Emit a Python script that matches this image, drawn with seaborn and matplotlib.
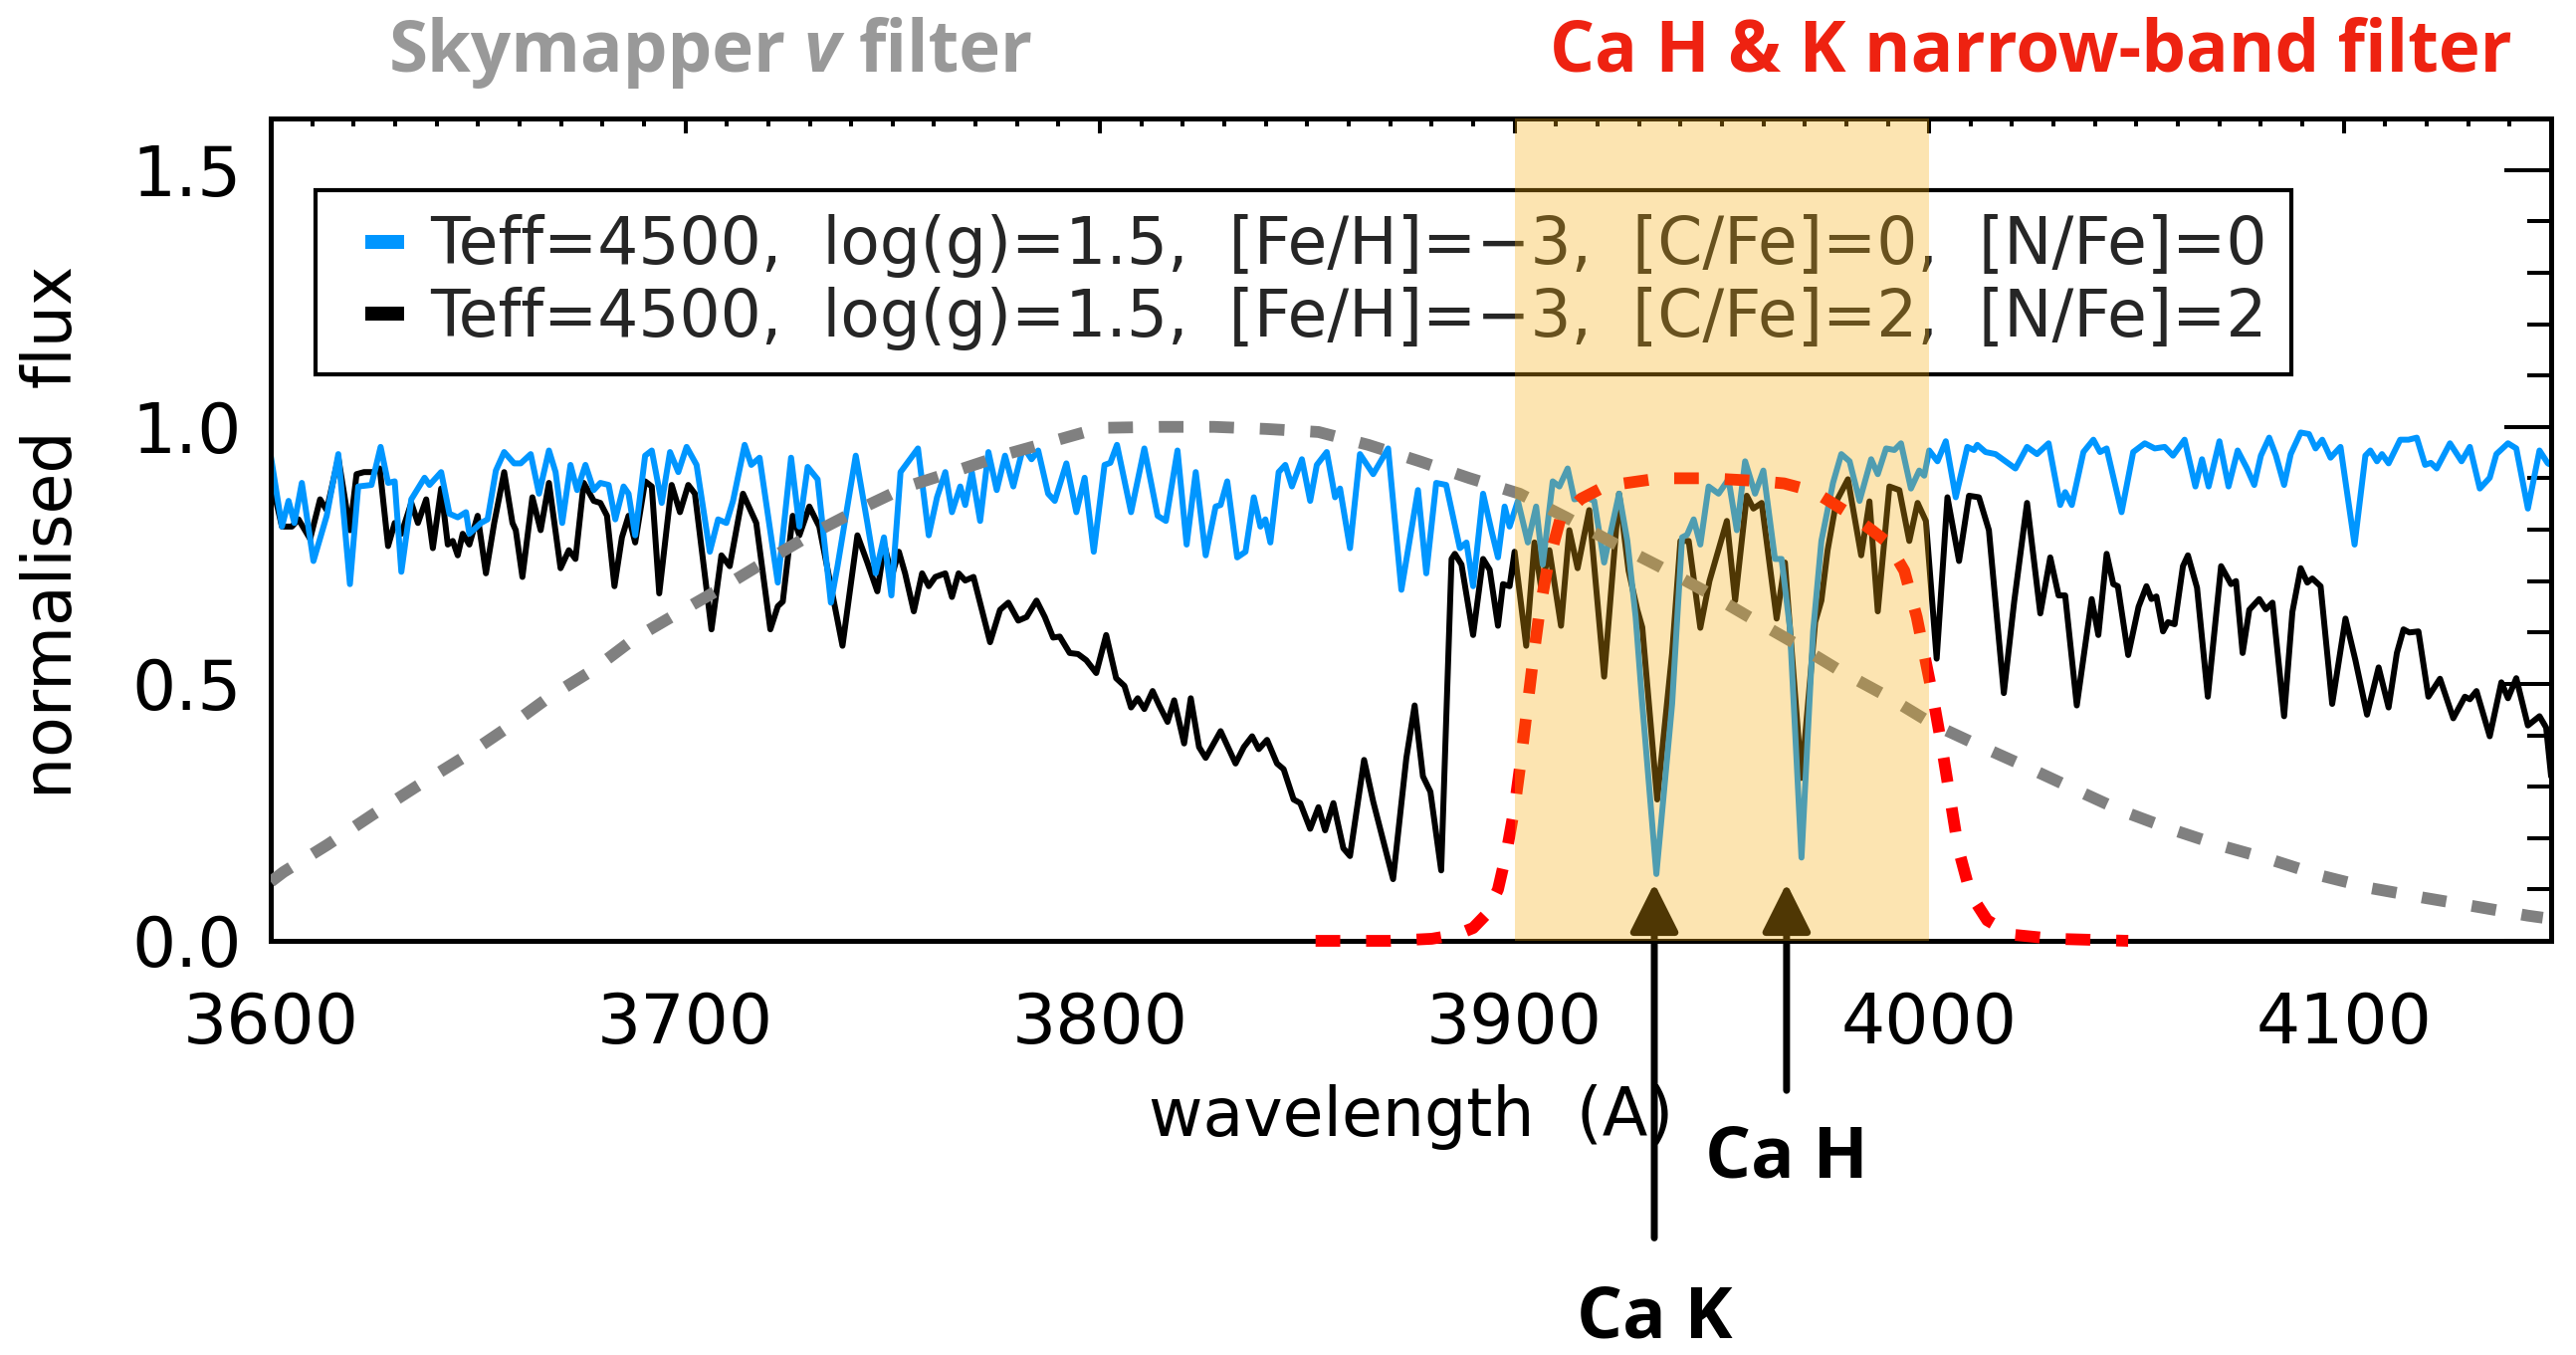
import matplotlib
matplotlib.use("Agg")
import matplotlib.pyplot as plt
import seaborn as sns
from matplotlib.lines import Line2D
from matplotlib.patches import Rectangle
from matplotlib.legend_handler import HandlerBase
from matplotlib.ticker import MultipleLocator

# ---------------- data ----------------
blue_wave = [3600.0, 3602.7, 3604.3, 3605.7, 3607.5, 3610.3, 3613.5, 3616.3, 3619.1, 3621.1,
             3624.3, 3626.5, 3628.3, 3629.9, 3631.5, 3633.9, 3637.1, 3638.3, 3641.1, 3643.1,
             3645.1, 3647.1, 3647.9, 3650.7, 3652.3, 3654.3, 3656.3, 3658.7, 3660.3, 3662.7,
             3664.7, 3667.1, 3668.7, 3670.3, 3672.3, 3673.9, 3675.9, 3677.9, 3679.5, 3681.5,
             3683.1, 3685.1, 3686.3, 3687.9, 3690.3, 3691.9, 3694.3, 3696.3, 3698.3, 3700.3,
             3702.7, 3705.9, 3707.9, 3709.9, 3711.5, 3714.3, 3715.9, 3717.9, 3722.3, 3725.5,
             3727.5, 3729.5, 3731.9, 3735.1, 3736.7, 3741.1, 3743.9, 3745.9, 3747.9, 3749.7,
             3751.9, 3756.1, 3758.7, 3760.7, 3762.7, 3764.3, 3766.3, 3767.5, 3769.1, 3771.1,
             3773.1, 3775.1, 3777.1, 3779.1, 3781.5, 3783.5, 3785.1, 3787.5, 3789.1, 3791.9,
             3794.3, 3796.3, 3798.5, 3801.1, 3802.5, 3804.1, 3807.5, 3810.7, 3813.9, 3815.9,
             3818.7, 3820.9, 3823.1, 3825.5, 3827.9, 3829.1, 3830.7, 3833.1, 3835.1, 3837.1,
             3838.7, 3839.9, 3841.1, 3843.1, 3844.7, 3846.3, 3848.7, 3850.7, 3852.3, 3854.7,
             3856.7, 3857.9, 3860.3, 3862.7, 3865.9, 3869.5, 3872.7, 3876.7, 3878.7, 3881.1,
             3883.5, 3886.8, 3888.4, 3890.0, 3892.4, 3894.4, 3896.0, 3897.6, 3898.8, 3900.8,
             3903.2, 3905.2, 3906.8, 3909.2, 3910.8, 3912.8, 3914.4, 3917.2, 3919.2, 3921.6,
             3925.2, 3927.2, 3929.2, 3930.8, 3934.2, 3938.0, 3940.4, 3941.6, 3943.2, 3944.8,
             3946.8, 3949.2, 3951.6, 3953.6, 3955.6, 3958.0, 3960.0, 3962.8, 3964.4, 3966.4,
             3969.2, 3972.0, 3974.0, 3976.8, 3978.8, 3980.8, 3983.2, 3986.0, 3987.6, 3989.6,
             3991.6, 3993.2, 3995.6, 3997.6, 3998.8, 4000.0, 4002.0, 4004.0, 4006.4, 4009.2,
             4010.8, 4011.6, 4013.6, 4016.0, 4018.4, 4020.8, 4023.6, 4026.0, 4028.8, 4031.6,
             4032.8, 4034.4, 4037.2, 4039.6, 4041.2, 4042.8, 4046.4, 4049.2, 4052.0, 4054.4,
             4056.8, 4058.8, 4061.6, 4064.2, 4065.8, 4067.4, 4070.0, 4072.2, 4074.4, 4076.6,
             4078.4, 4080.0, 4082.0, 4083.6, 4085.6, 4087.2, 4089.6, 4091.6, 4093.2, 4094.8,
             4096.8, 4099.2, 4102.6, 4105.2, 4106.4, 4108.0, 4109.2, 4110.8, 4113.6, 4115.6,
             4117.6, 4119.6, 4121.0, 4122.4, 4125.6, 4128.4, 4130.4, 4132.8, 4135.2, 4136.8,
             4139.6, 4141.6, 4144.4, 4147.2, 4149.2, 4150.0]
blue_flux = [0.944, 0.806, 0.856, 0.813, 0.891, 0.739, 0.827, 0.947, 0.694, 0.884,
             0.887, 0.961, 0.891, 0.894, 0.718, 0.859, 0.901, 0.887, 0.912, 0.831,
             0.824, 0.834, 0.792, 0.813, 0.820, 0.915, 0.951, 0.929, 0.929, 0.947,
             0.870, 0.954, 0.912, 0.813, 0.926, 0.877, 0.926, 0.877, 0.891, 0.887,
             0.820, 0.884, 0.870, 0.789, 0.944, 0.954, 0.852, 0.951, 0.912, 0.961,
             0.926, 0.757, 0.820, 0.813, 0.856, 0.965, 0.926, 0.940, 0.697, 0.940,
             0.806, 0.922, 0.898, 0.658, 0.729, 0.944, 0.813, 0.715, 0.785, 0.672,
             0.912, 0.958, 0.789, 0.863, 0.912, 0.834, 0.884, 0.848, 0.912, 0.817,
             0.951, 0.877, 0.944, 0.884, 0.961, 0.937, 0.954, 0.870, 0.856, 0.929,
             0.834, 0.901, 0.757, 0.926, 0.930, 0.965, 0.834, 0.958, 0.827, 0.817,
             0.954, 0.771, 0.912, 0.750, 0.845, 0.848, 0.894, 0.746, 0.757, 0.863,
             0.806, 0.820, 0.775, 0.912, 0.926, 0.884, 0.937, 0.856, 0.926, 0.951,
             0.863, 0.880, 0.764, 0.947, 0.908, 0.958, 0.683, 0.877, 0.715, 0.891,
             0.887, 0.764, 0.775, 0.690, 0.870, 0.799, 0.746, 0.845, 0.806, 0.856,
             0.775, 0.845, 0.732, 0.894, 0.884, 0.919, 0.859, 0.863, 0.856, 0.736,
             0.870, 0.778, 0.630, 0.461, 0.130, 0.461, 0.785, 0.790, 0.820, 0.771,
             0.884, 0.870, 0.898, 0.799, 0.933, 0.870, 0.915, 0.743, 0.743, 0.609,
             0.162, 0.602, 0.778, 0.891, 0.947, 0.933, 0.856, 0.937, 0.908, 0.958,
             0.955, 0.968, 0.880, 0.915, 0.905, 0.954, 0.933, 0.972, 0.863, 0.961,
             0.955, 0.965, 0.951, 0.947, 0.933, 0.919, 0.961, 0.947, 0.968, 0.848,
             0.873, 0.848, 0.951, 0.975, 0.951, 0.958, 0.834, 0.951, 0.968, 0.958,
             0.961, 0.944, 0.975, 0.884, 0.937, 0.884, 0.972, 0.884, 0.954, 0.920,
             0.887, 0.944, 0.979, 0.945, 0.887, 0.947, 0.989, 0.986, 0.958, 0.975,
             0.940, 0.961, 0.771, 0.944, 0.954, 0.933, 0.947, 0.929, 0.975, 0.975,
             0.979, 0.926, 0.930, 0.919, 0.968, 0.933, 0.961, 0.880, 0.901, 0.947,
             0.968, 0.958, 0.841, 0.954, 0.929, 0.926]

black_wave = [3600.0, 3602.7, 3605.1, 3606.7, 3609.5, 3611.9, 3613.5, 3616.3, 3619.1, 3620.7,
              3622.5, 3624.7, 3626.3, 3628.3, 3629.9, 3631.5, 3633.9, 3635.5, 3637.5, 3639.1,
              3641.1, 3642.7, 3643.9, 3645.1, 3646.3, 3647.9, 3649.9, 3651.9, 3653.9, 3656.3,
              3658.3, 3659.1, 3660.7, 3663.1, 3665.1, 3667.1, 3669.9, 3671.9, 3673.5, 3675.5,
              3677.9, 3679.5, 3681.1, 3682.9, 3684.7, 3686.3, 3687.9, 3690.3, 3691.9, 3693.7,
              3696.7, 3698.7, 3700.7, 3702.3, 3706.3, 3708.7, 3710.7, 3713.9, 3717.1, 3720.5,
              3722.3, 3723.5, 3725.9, 3727.5, 3729.9, 3732.3, 3737.9, 3741.5, 3743.9, 3746.3,
              3748.0, 3749.8, 3751.5, 3753.0, 3755.1, 3757.1, 3758.7, 3760.3, 3762.7, 3764.3,
              3765.9, 3767.5, 3769.5, 3773.5, 3775.9, 3777.9, 3780.3, 3782.3, 3784.7, 3786.7,
              3788.7, 3790.3, 3792.7, 3794.7, 3796.7, 3799.1, 3801.5, 3803.9, 3805.9, 3807.5,
              3809.1, 3810.7, 3812.7, 3814.3, 3816.3, 3817.9, 3820.3, 3821.9, 3823.9, 3825.5,
              3829.1, 3832.7, 3834.7, 3836.7, 3838.3, 3840.3, 3842.7, 3844.3, 3846.7, 3848.3,
              3850.7, 3852.7, 3854.3, 3856.3, 3858.7, 3860.3, 3863.7, 3865.9, 3870.7, 3873.9,
              3875.9, 3877.9, 3879.7, 3882.3, 3884.8, 3885.6, 3887.2, 3890.0, 3892.4, 3894.0,
              3896.0, 3897.2, 3898.8, 3900.0, 3902.8, 3904.8, 3906.4, 3908.4, 3911.2, 3913.2,
              3915.2, 3918.0, 3921.6, 3925.2, 3927.5, 3929.6, 3930.8, 3934.4, 3938.0, 3940.0,
              3942.0, 3944.8, 3947.0, 3951.2, 3953.2, 3956.0, 3957.6, 3959.6, 3963.2, 3965.2,
              3969.2, 3972.5, 3974.0, 3975.5, 3977.6, 3980.4, 3983.6, 3985.6, 3987.6, 3990.4,
              3992.8, 3995.2, 3997.2, 3999.2, 4001.8, 4004.4, 4007.2, 4009.6, 4012.0, 4014.4,
              4018.0, 4020.5, 4023.6, 4026.8, 4029.2, 4031.2, 4032.8, 4035.6, 4039.2, 4040.8,
              4042.8, 4044.4, 4045.5, 4048.0, 4050.5, 4052.4, 4053.6, 4054.8, 4056.4, 4057.6,
              4059.2, 4061.2, 4062.4, 4064.6, 4067.2, 4070.4, 4072.8, 4074.0, 4075.6, 4077.2,
              4079.6, 4081.2, 4082.8, 4085.6, 4087.6, 4089.6, 4091.2, 4092.4, 4094.4, 4097.2,
              4100.4, 4102.8, 4105.6, 4108.4, 4110.8, 4112.8, 4114.4, 4115.8, 4118.0, 4120.4,
              4123.2, 4126.4, 4129.2, 4130.4, 4132.0, 4135.2, 4138.0, 4139.6, 4141.6, 4144.4,
              4147.2, 4148.8, 4150.0]
black_flux = [0.901, 0.806, 0.806, 0.820, 0.782, 0.859, 0.838, 0.940, 0.799, 0.908,
              0.912, 0.912, 0.919, 0.768, 0.813, 0.792, 0.852, 0.813, 0.859, 0.764,
              0.880, 0.771, 0.778, 0.750, 0.792, 0.771, 0.827, 0.715, 0.813, 0.912,
              0.813, 0.799, 0.708, 0.863, 0.799, 0.891, 0.725, 0.760, 0.743, 0.891,
              0.856, 0.852, 0.827, 0.690, 0.785, 0.827, 0.775, 0.894, 0.884, 0.676,
              0.887, 0.834, 0.887, 0.870, 0.606, 0.750, 0.729, 0.870, 0.813, 0.606,
              0.651, 0.660, 0.827, 0.789, 0.845, 0.806, 0.574, 0.789, 0.736, 0.680,
              0.770, 0.710, 0.757, 0.715, 0.641, 0.715, 0.690, 0.708, 0.715, 0.669,
              0.715, 0.701, 0.708, 0.581, 0.644, 0.658, 0.623, 0.630, 0.662, 0.630,
              0.590, 0.592, 0.560, 0.558, 0.546, 0.521, 0.595, 0.511, 0.496, 0.454,
              0.472, 0.451, 0.486, 0.458, 0.426, 0.468, 0.384, 0.472, 0.377, 0.356,
              0.408, 0.345, 0.377, 0.398, 0.373, 0.391, 0.345, 0.334, 0.275, 0.268,
              0.218, 0.260, 0.215, 0.268, 0.180, 0.165, 0.352, 0.271, 0.120, 0.356,
              0.458, 0.320, 0.290, 0.137, 0.743, 0.753, 0.732, 0.595, 0.743, 0.722,
              0.613, 0.694, 0.690, 0.757, 0.574, 0.775, 0.687, 0.760, 0.613, 0.799,
              0.725, 0.838, 0.514, 0.870, 0.720, 0.644, 0.610, 0.275, 0.560, 0.778,
              0.778, 0.609, 0.700, 0.817, 0.662, 0.866, 0.841, 0.852, 0.627, 0.736,
              0.317, 0.620, 0.662, 0.760, 0.855, 0.898, 0.750, 0.855, 0.641, 0.884,
              0.877, 0.778, 0.852, 0.817, 0.549, 0.863, 0.739, 0.866, 0.863, 0.799,
              0.482, 0.660, 0.852, 0.637, 0.746, 0.672, 0.672, 0.458, 0.665, 0.595,
              0.753, 0.694, 0.690, 0.556, 0.650, 0.690, 0.665, 0.670, 0.602, 0.620,
              0.616, 0.729, 0.750, 0.687, 0.475, 0.729, 0.694, 0.700, 0.560, 0.644,
              0.665, 0.645, 0.658, 0.437, 0.640, 0.725, 0.697, 0.705, 0.690, 0.461,
              0.627, 0.546, 0.440, 0.532, 0.454, 0.560, 0.606, 0.600, 0.602, 0.475,
              0.510, 0.433, 0.475, 0.470, 0.486, 0.398, 0.503, 0.472, 0.511, 0.419,
              0.437, 0.415, 0.320]

vfilter_wave = [3600.0, 3603.1, 3613.7, 3624.5, 3635.3, 3646.3, 3657.1, 3667.1, 3677.7, 3687.7,
                3698.5, 3709.5, 3720.3, 3731.5, 3742.3, 3753.5, 3765.5, 3777.5, 3789.9, 3800.0,
                3814.7, 3827.5, 3839.9, 3852.7, 3864.7, 3877.1, 3889.2, 3901.2, 3912.4, 3923.6,
                3934.8, 3946.0, 3957.2, 3968.0, 3978.8, 3990.0, 4000.8, 4012.0, 4023.6, 4034.8,
                4046.4, 4058.0, 4070.4, 4082.4, 4094.4, 4106.8, 4119.2, 4131.6, 4144.4, 4148.0]
vfilter_trans = [0.115, 0.134, 0.187, 0.245, 0.301, 0.356, 0.415, 0.474, 0.527, 0.588,
                 0.639, 0.690, 0.743, 0.796, 0.841, 0.884, 0.915, 0.947, 0.975, 0.998,
                 1.000, 1.000, 0.996, 0.990, 0.965, 0.933, 0.900, 0.870, 0.824, 0.775,
                 0.729, 0.680, 0.627, 0.577, 0.524, 0.475, 0.422, 0.380, 0.338, 0.296,
                 0.253, 0.218, 0.185, 0.158, 0.127, 0.102, 0.084, 0.067, 0.049, 0.045]

hk_wave = [3852.0, 3870.0, 3880.0, 3886.0, 3890.0, 3893.0, 3896.0, 3898.0, 3900.0, 3901.5,
           3903.0, 3904.5, 3906.0, 3908.0, 3911.0, 3916.0, 3922.0, 3935.0, 3947.0, 3958.0,
           3965.0, 3972.0, 3980.0, 3986.0, 3990.0, 3994.0, 3997.0, 3999.0, 4001.0, 4003.0,
           4005.0, 4007.0, 4010.0, 4014.0, 4020.0, 4030.0, 4048.0]
hk_trans = [0.000, 0.000, 0.004, 0.012, 0.025, 0.050, 0.100, 0.170, 0.260, 0.350,
            0.450, 0.550, 0.640, 0.730, 0.820, 0.860, 0.885, 0.900, 0.900, 0.895,
            0.890, 0.875, 0.835, 0.800, 0.775, 0.720, 0.630, 0.550, 0.470, 0.380,
            0.280, 0.180, 0.090, 0.040, 0.012, 0.004, 0.000]

legend_labels = ["Teff=4500,  log(g)=1.5,  [Fe/H]=\u22123,  [C/Fe]=0,  [N/Fe]=0",
                 "Teff=4500,  log(g)=1.5,  [Fe/H]=\u22123,  [C/Fe]=2,  [N/Fe]=2"]
x_ticks = [3600, 3700, 3800, 3900, 4000, 4100]
y_ticks = [0.0, 0.5, 1.0, 1.5]
y_ticklabels = ["0.0", "0.5", "1.0", "1.5"]
hk_band = [3900, 4000]
line_names = ["Ca K", "Ca H"]
line_wave = [3933.7, 3965.6]

# ---------------- style ----------------
sns.set_style("white")
plt.rcParams["font.family"] = ["DejaVu Sans"]

BLUE = "#0096FF"
W, H = 2588, 1361
fig = plt.figure(figsize=(W / 100, H / 100), dpi=100)
fig.patch.set_facecolor("white")
ax = fig.add_axes([272 / W, 1 - 945 / H, (2563 - 272) / W, (945 - 119) / H])

sns.lineplot(x=black_wave, y=black_flux, ax=ax, color="black",
             estimator=None, sort=False, legend=False, zorder=2)
ax.lines[-1].set_linewidth(4.3)
sns.lineplot(x=blue_wave, y=blue_flux, ax=ax, color=BLUE,
             estimator=None, sort=False, legend=False, zorder=2.1)
ax.lines[-1].set_linewidth(4.3)
sns.lineplot(x=vfilter_wave, y=vfilter_trans, ax=ax, color="#808080",
             estimator=None, sort=False, legend=False, zorder=3)
ax.lines[-1].set_linewidth(8.5)
ax.lines[-1].set_dashes([2.1, 2.2])
sns.lineplot(x=hk_wave, y=hk_trans, ax=ax, color="#FF0000",
             estimator=None, sort=False, legend=False, zorder=3.1)
ax.lines[-1].set_linewidth(8.5)
ax.lines[-1].set_dashes([2.1, 2.2])
ax.lines[-1].set_clip_on(False)
for ln in ax.lines:
    ln.set_solid_joinstyle("round")
    ln.set_dash_capstyle("butt")

# shaded narrow-band region drawn on top of everything inside the axes
ax.axvspan(hk_band[0], hk_band[1], color=(0.963, 0.682, 0.056), alpha=0.32, lw=0, zorder=6)

# arrows + labels for Ca K and Ca H
tails = [-0.578, -0.291]
text_y = [-0.772, -0.461]
for name, lam, tail, ty in zip(line_names, line_wave, tails, text_y):
    ax.annotate("", xy=(lam, 0.112), xytext=(lam, tail), xycoords="data", textcoords="data",
                arrowprops=dict(arrowstyle="-|>,head_length=1.5,head_width=0.75",
                                color="black", lw=5, shrinkA=0, shrinkB=0, mutation_scale=20),
                annotation_clip=False, zorder=4)
    ax.text(lam, ty, name, ha="center", va="baseline", fontsize=52, fontweight="bold",
            family=["Open Sans", "DejaVu Sans"], color="black", clip_on=False)

ax.set_xlim(3600, 4150)
ax.set_ylim(0, 1.6)
ax.set_xticks(x_ticks)
ax.set_xticklabels([str(t) for t in x_ticks])
ax.set_yticks(y_ticks)
ax.set_yticklabels(y_ticklabels)
ax.xaxis.set_minor_locator(MultipleLocator(10))
ax.yaxis.set_minor_locator(MultipleLocator(0.1))
ax.tick_params(axis="both", which="both", direction="in", top=True, right=True,
               width=2.9, color="black", labelcolor="black")
ax.tick_params(axis="x", which="major", length=11, pad=36, labelsize=50)
ax.tick_params(axis="x", which="minor", length=5.5)
ax.tick_params(axis="y", which="major", length=34, pad=21, labelsize=50)
ax.tick_params(axis="y", which="minor", length=17)
for s in ax.spines.values():
    s.set_linewidth(3.6)
    s.set_color("black")

ax.set_xlabel("wavelength  (A)", fontsize=48, color="black")
ax.xaxis.set_label_coords(0.5, -0.174)
ax.set_ylabel("normalised  flux", fontsize=48, color="black")
ax.yaxis.set_label_coords(-0.081, 0.497)


class BarHandler(HandlerBase):
    def create_artists(self, legend, orig_handle, xdescent, ydescent, width, height,
                       fontsize, trans):
        w, hh = 28, 10
        r = Rectangle((-xdescent + width - w, -ydescent + height / 2 - hh / 2), w, hh,
                      facecolor=orig_handle.get_color(), edgecolor="none", transform=trans)
        return [r]


handles = [Line2D([], [], color=BLUE), Line2D([], [], color="black")]
leg = ax.legend(handles, legend_labels, loc="upper left", bbox_to_anchor=(0.0196, 0.913),
                borderaxespad=0, fontsize=46.5, frameon=True, fancybox=False, framealpha=1,
                edgecolor="black", borderpad=0.38, labelspacing=0.13, handlelength=1.0,
                handletextpad=0.4, handler_map={Line2D: BarHandler()})
leg.get_frame().set_linewidth(3)
leg.set_zorder(5)

# titles above the plot
title_kw = dict(fontsize=51, fontweight="bold", family=["Open Sans", "DejaVu Sans"],
                va="baseline", ha="left")
ty_fig = 1 - 72 / H
gray_pieces = [("Skymapper", "normal"), ("v", "italic"), ("filter", "normal")]
gtexts = [fig.text(0, ty_fig, s, color="#999999", style=st, **title_kw) for s, st in gray_pieces]
t_a = fig.text(0, 0.5, "x x", **title_kw)
t_b = fig.text(0, 0.5, "xx", **title_kw)
fig.canvas.draw()
rend = fig.canvas.get_renderer()
space_w = t_a.get_window_extent(rend).width - t_b.get_window_extent(rend).width
t_a.remove()
t_b.remove()
widths = [t.get_window_extent(rend).width for t in gtexts]
total = sum(widths) + space_w * (len(widths) - 1)
x = 714 - total / 2
for t, w in zip(gtexts, widths):
    t.set_x(x / W)
    x += w + space_w

fig.text(2040 / W, ty_fig, "Ca H & K narrow-band filter", color="#EE2211",
         **dict(title_kw, ha="center"))

fig.savefig("out.png", dpi=100, facecolor="white")
